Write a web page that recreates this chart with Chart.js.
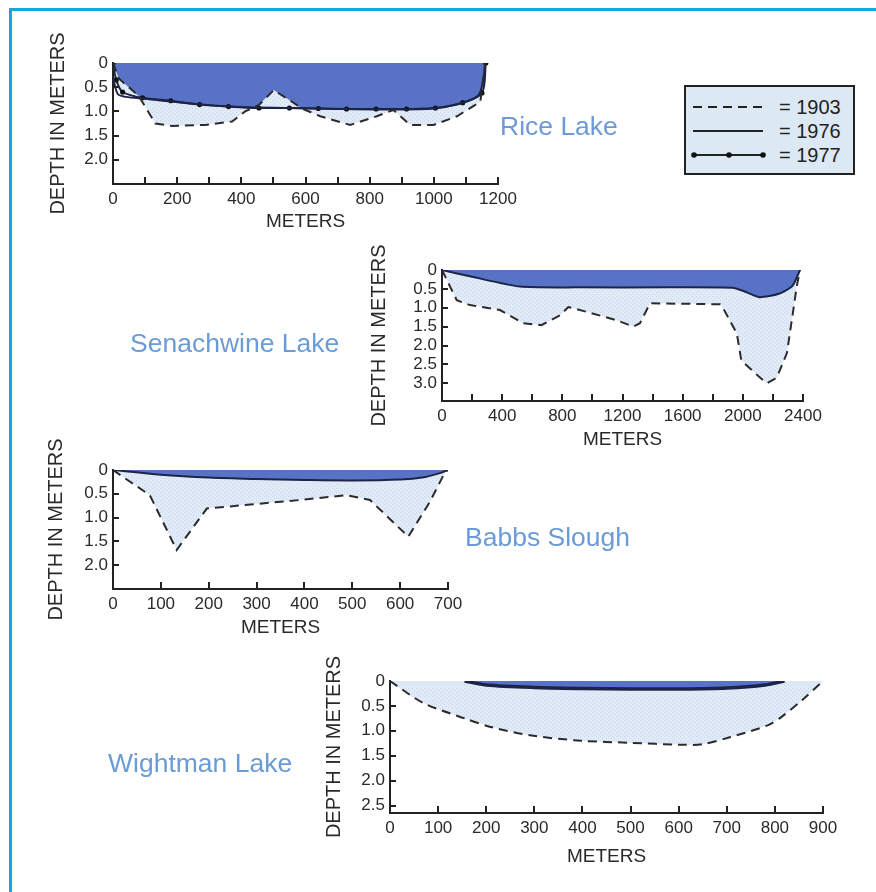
<!DOCTYPE html>
<html>
<head>
<meta charset="utf-8">
<script src="https://cdn.jsdelivr.net/npm/chart.js@4.4.1/dist/chart.umd.min.js"></script>
<style>
  html, body { margin:0; padding:0; background:#fff; }
  body { width:876px; height:892px; position:relative; overflow:hidden; font-family:'Liberation Sans', Arial, sans-serif; }
  #frame { position:absolute; left:9px; top:8px; right:0; bottom:0; border-top:3px solid #17a4e1; border-left:3px solid #17a4e1; }
  canvas.lake { position:absolute; left:0; top:0; }
  .name { position:absolute; font-size:26.5px; line-height:30px; color:#6b9bd7; white-space:nowrap; }
  #legend { position:absolute; left:684px; top:85px; width:167px; height:86px; border:2px solid #222; background:#dde8f5; }
  .lgtxt { position:absolute; font-size:20px; line-height:22px; color:#222; white-space:nowrap; }
  .lgsvg { position:absolute; }
</style>
</head>
<body>
<div id="frame"></div>
<canvas class="lake" id="rice" width="876" height="892"></canvas>
<canvas class="lake" id="sen" width="876" height="892"></canvas>
<canvas class="lake" id="babbs" width="876" height="892"></canvas>
<canvas class="lake" id="wight" width="876" height="892"></canvas>

<div class="name" style="left:500px; top:111px;">Rice Lake</div>
<div class="name" style="left:130px; top:328px;">Senachwine Lake</div>
<div class="name" style="left:465px; top:522px;">Babbs Slough</div>
<div class="name" style="left:108px; top:748px;">Wightman Lake</div>

<div id="legend"></div>
<svg class="lgsvg" style="left:690px; top:97px;" width="80" height="64">
  <line x1="3" y1="10" x2="73" y2="10" stroke="#222" stroke-width="2" stroke-dasharray="9 6"/>
  <line x1="3" y1="34" x2="73" y2="34" stroke="#222" stroke-width="2"/>
  <line x1="3" y1="58" x2="73" y2="58" stroke="#222" stroke-width="2"/>
  <circle cx="4" cy="58" r="2.8" fill="#111"/>
  <circle cx="39" cy="58" r="2.8" fill="#111"/>
  <circle cx="73" cy="58" r="2.8" fill="#111"/>
</svg>
<div class="lgtxt" style="left:779px; top:96px;">= 1903</div>
<div class="lgtxt" style="left:779px; top:120px;">= 1976</div>
<div class="lgtxt" style="left:779px; top:144px;">= 1977</div>

<script>
// ---------- DATA (distance in meters, depth in meters) ----------
// Rice Lake
const riceX1903 = [0, 18, 80, 132, 184, 288, 371, 412, 454, 501, 558, 589, 646, 739, 822, 874, 926, 999, 1072, 1145, 1160];
const riceD1903 = [0, 0.32, 0.68, 1.25, 1.30, 1.28, 1.21, 1.00, 0.87, 0.56, 0.80, 0.94, 1.10, 1.28, 1.10, 0.97, 1.28, 1.28, 1.10, 0.80, 0];
const riceX1976 = [0, 15, 40, 100, 250, 400, 550, 700, 850, 1000, 1080, 1140, 1160];
const riceD1976 = [0.3, 0.64, 0.70, 0.74, 0.84, 0.91, 0.93, 0.95, 0.96, 0.94, 0.84, 0.66, 0.1];
const riceX1977 = [0, 10, 30, 92, 180, 270, 360, 455, 550, 640, 728, 820, 915, 1005, 1090, 1150, 1162];
const riceD1977 = [0, 0.35, 0.60, 0.72, 0.78, 0.86, 0.90, 0.93, 0.93, 0.94, 0.95, 0.95, 0.95, 0.93, 0.82, 0.62, 0];
// Senachwine Lake
const senX1903 = [0, 98, 186, 385, 540, 661, 785, 840, 1000, 1160, 1272, 1316, 1383, 1848, 1870, 1960, 1990, 2114, 2160, 2226, 2293, 2336, 2358, 2380];
const senD1903 = [0, 0.80, 0.93, 1.06, 1.41, 1.46, 1.20, 0.98, 1.15, 1.33, 1.50, 1.41, 0.88, 0.91, 1.02, 1.68, 2.40, 2.85, 3.00, 2.85, 2.20, 1.05, 0.44, 0];
const senX1976 = [0, 200, 519, 900, 1500, 1930, 2000, 2110, 2240, 2330, 2380];
const senD1976 = [0, 0.18, 0.44, 0.46, 0.46, 0.47, 0.55, 0.72, 0.63, 0.42, 0];
// Babbs Slough
const babX1903 = [0, 77, 133, 196, 293, 391, 488, 537, 617, 662, 694, 700];
const babD1903 = [0, 0.53, 1.68, 0.81, 0.72, 0.63, 0.53, 0.63, 1.40, 0.67, 0.04, 0];
const babX1976 = [0, 100, 200, 300, 400, 500, 600, 650, 685, 700];
const babD1976 = [0, 0.10, 0.16, 0.19, 0.21, 0.22, 0.20, 0.15, 0.06, 0];
// Wightman Lake
const wigX1903 = [0, 69, 155, 212, 298, 398, 499, 606, 649, 706, 785, 814, 857, 900];
const wigD1903 = [0, 0.44, 0.75, 0.93, 1.10, 1.20, 1.24, 1.28, 1.27, 1.13, 0.89, 0.72, 0.38, 0];
const wigX1976 = [155, 200, 300, 400, 500, 600, 700, 780, 820];
const wigD1976 = [0, 0.08, 0.13, 0.15, 0.16, 0.16, 0.14, 0.08, 0];
// Tick labels
const riceXLabels = [0, 200, 400, 600, 800, 1000, 1200];
const senXLabels = [0, 400, 800, 1200, 1600, 2000, 2400];
const babXLabels = [0, 100, 200, 300, 400, 500, 600, 700];
const wigXLabels = [0, 100, 200, 300, 400, 500, 600, 700, 800, 900];
const depthLabels20 = [0, 0.5, 1.0, 1.5, 2.0];
const depthLabels25 = [0, 0.5, 1.0, 1.5, 2.0, 2.5];
const depthLabels30 = [0, 0.5, 1.0, 1.5, 2.0, 2.5, 3.0];

// ---------- STYLE ----------
const FAM = "'Liberation Sans', Arial, sans-serif";
const DARK = '#5872c5';
const LINE = '#1c2547';
const INK = '#2a2a2a';

function pts(xs, ys) { return xs.map((x, i) => ({x: x, y: ys[i]})); }
function onStep(v, s) { return Math.abs(v / s - Math.round(v / s)) < 1e-6; }

function stipple(ctx) {
  const c = document.createElement('canvas');
  c.width = 4; c.height = 4;
  const g = c.getContext('2d');
  g.fillStyle = '#e1ebf7'; g.fillRect(0, 0, 4, 4);
  g.fillStyle = '#c6d7ee'; g.fillRect(0, 0, 1, 1); g.fillRect(2, 2, 1, 1);
  return ctx.createPattern(c, 'repeat');
}

// short tick marks pointing into the plot, placed with the chart's own scales
function makeTicks(xStep) {
  return {
    id: 'inwardTicks',
    afterDraw(chart) {
      const ctx = chart.ctx;
      const a = chart.chartArea;
      const xs = chart.scales.x, ys = chart.scales.y;
      ctx.save();
      ctx.strokeStyle = '#222';
      ctx.lineWidth = 2;
      ctx.beginPath();
      xs.ticks.forEach(t => {
        if (t.value === 0 || !onStep(t.value, xStep)) return;
        const px = Math.round(xs.getPixelForValue(t.value));
        ctx.moveTo(px, a.bottom); ctx.lineTo(px, a.bottom - 7);
      });
      ys.ticks.forEach(t => {
        if (t.value === 0 || !onStep(t.value, 0.5)) return;
        const py = Math.round(ys.getPixelForValue(t.value));
        ctx.moveTo(a.left, py); ctx.lineTo(a.left + 6, py);
      });
      ctx.stroke();
      ctx.restore();
    }
  };
}

function lakeChart(id, L, datasets) {
  const yLH = 24, xLH = 22.8;
  const padLeft = L.yTitleX - yLH / 2;
  const wy = L.area.left - padLeft;
  const hx = L.xTitleY - L.area.bottom + xLH / 2;
  const padBottom = 892 - L.area.bottom - hx;
  return new Chart(document.getElementById(id), {
    type: 'line',
    data: {datasets: datasets},
    plugins: [makeTicks(L.xStep)],
    options: {
      responsive: false,
      animation: false,
      devicePixelRatio: 1,
      layout: {padding: {left: padLeft, top: L.area.top, right: 876 - L.area.right, bottom: padBottom}},
      plugins: {
        legend: {display: false},
        tooltip: {enabled: false},
        filler: {drawTime: 'beforeDatasetsDraw'}
      },
      scales: {
        x: {
          type: 'linear', position: 'bottom', min: 0, max: L.xMax,
          border: {display: true, color: '#222', width: 2},
          grid: {display: false, drawTicks: false},
          ticks: {
            stepSize: L.xStep, autoSkip: false, includeBounds: false, maxRotation: 0, padding: 5, color: INK,
            font: {size: 17, family: FAM},
            callback: v => L.xLabels.includes(v) ? String(v) : ''
          },
          title: {display: true, text: 'METERS', color: INK, padding: 0, font: {size: 19, family: FAM, lineHeight: 1.2}},
          afterFit: s => { s.height = hx; }
        },
        y: {
          type: 'linear', position: 'left', reverse: true, min: 0, max: L.yMax,
          border: {display: true, color: '#222', width: 2},
          grid: {display: false, drawTicks: false},
          ticks: {
            stepSize: 0.5, autoSkip: false, includeBounds: false, padding: 5, color: INK,
            font: {size: 17, family: FAM},
            callback: v => L.yLabels.some(l => Math.abs(l - v) < 1e-6) ? (v === 0 ? '0' : v.toFixed(1)) : ''
          },
          title: {display: true, text: 'DEPTH IN METERS', color: INK, padding: 0, font: {size: 20, family: FAM, lineHeight: 1.2}},
          afterFit: s => { s.width = wy; }
        }
      }
    }
  });
}

function ctxOf(id) { return document.getElementById(id).getContext('2d'); }

// Rice Lake
lakeChart('rice', {
  area: {left: 113, top: 63, right: 498, bottom: 184}, yTitleX: 58, xTitleY: 222,
  xMax: 1200, xStep: 100, yMax: 2.5, xLabels: riceXLabels, yLabels: depthLabels20
}, [
  {label: '1903', data: pts(riceX1903, riceD1903), borderColor: '#2b2b2b', borderWidth: 2, borderDash: [9, 6],
   pointRadius: 0, fill: 2, backgroundColor: stipple(ctxOf('rice')), tension: 0},
  {label: '1976', data: pts(riceX1976, riceD1976), borderColor: LINE, borderWidth: 2, pointRadius: 0, fill: false, tension: 0.3},
  {label: '1977', data: pts(riceX1977, riceD1977), borderColor: LINE, borderWidth: 2, pointRadius: 2.6,
   pointBackgroundColor: '#111', pointBorderWidth: 0, fill: 'origin', backgroundColor: DARK, tension: 0.3}
]);

// Senachwine Lake
lakeChart('sen', {
  area: {left: 442, top: 270, right: 803, bottom: 401}, yTitleX: 379, xTitleY: 440,
  xMax: 2400, xStep: 200, yMax: 3.47, xLabels: senXLabels, yLabels: depthLabels30
}, [
  {label: '1976', data: pts(senX1976, senD1976), borderColor: LINE, borderWidth: 2, pointRadius: 0,
   fill: 'origin', backgroundColor: DARK, tension: 0.2},
  {label: '1903', data: pts(senX1903, senD1903), borderColor: '#2b2b2b', borderWidth: 2, borderDash: [9, 6],
   pointRadius: 0, fill: 'origin', backgroundColor: stipple(ctxOf('sen')), tension: 0}
]);

// Babbs Slough
lakeChart('babbs', {
  area: {left: 113, top: 470, right: 448, bottom: 589}, yTitleX: 56, xTitleY: 628,
  xMax: 700, xStep: 100, yMax: 2.5, xLabels: babXLabels, yLabels: depthLabels20
}, [
  {label: '1976', data: pts(babX1976, babD1976), borderColor: LINE, borderWidth: 2, pointRadius: 0,
   fill: 'origin', backgroundColor: DARK, tension: 0.3},
  {label: '1903', data: pts(babX1903, babD1903), borderColor: '#2b2b2b', borderWidth: 2, borderDash: [9, 6],
   pointRadius: 0, fill: 'origin', backgroundColor: stipple(ctxOf('babbs')), tension: 0}
]);

// Wightman Lake
lakeChart('wight', {
  area: {left: 390, top: 681, right: 823, bottom: 813}, yTitleX: 334, xTitleY: 857,
  xMax: 900, xStep: 100, yMax: 2.65, xLabels: wigXLabels, yLabels: depthLabels25
}, [
  {label: '1976', data: pts(wigX1976, wigD1976), borderColor: LINE, borderWidth: 3.5, pointRadius: 0,
   fill: 'origin', backgroundColor: DARK, tension: 0.3},
  {label: '1903', data: pts(wigX1903, wigD1903), borderColor: '#2b2b2b', borderWidth: 2, borderDash: [9, 6],
   pointRadius: 0, fill: 'origin', backgroundColor: stipple(ctxOf('wight')), tension: 0.3}
]);
</script>
</body>
</html>
